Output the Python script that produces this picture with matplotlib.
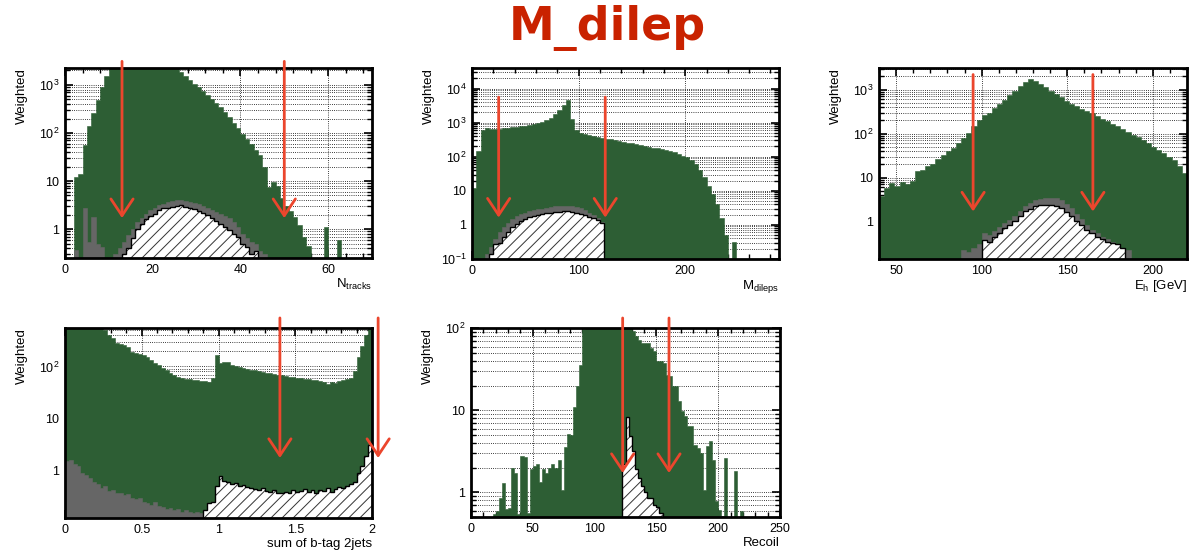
import numpy as np
import matplotlib
matplotlib.use("Agg")
import matplotlib.pyplot as plt
from matplotlib.ticker import LogLocator, FuncFormatter, NullFormatter, MultipleLocator, AutoMinorLocator

plt.rcParams["font.family"] = ["Liberation Sans", "DejaVu Sans"]
plt.rcParams["hatch.linewidth"] = 0.7

BKG = "#2d5e34"
OTHER = "#666666"
HATCH = "#333333"
ARROW = "#eb462d"
TITLE = "#c92200"

# N_tracks, 1-wide bins from 0
ntrk_bkg = [0, 0, 12, 14, 55, 140, 260, 480, 900, 1500,
            2400, 3000, 3400, 3700, 4000, 4300, 4500, 4600, 4600, 4500,
            4300, 4000, 3700, 3300, 2900, 2500, 1900, 1550, 1250, 1050,
            900, 750, 620, 500, 420, 340, 270, 210, 165, 125,
            95, 75, 58, 45, 34, 20, 7.5, 9.5, 8, 4.5,
            3, 2.4, 1.8, 1.2, 0.7, 0.45, 0, 0, 0, 1.1,
            0, 0, 0.58, 0, 0, 0, 0, 0, 0, 0]
ntrk_other = [0, 0, 0.36, 0, 2.7, 0.54, 1.8, 0.5, 0.43, 0,
              0, 0.3, 0.4, 0.54, 0.75, 1.0, 1.4, 1.7, 2.1, 2.5,
              2.8, 3.2, 3.4, 3.6, 3.8, 4.0, 4.0, 3.9, 3.7, 3.5,
              3.3, 3.0, 2.8, 2.5, 2.3, 2.1, 1.9, 1.7, 1.4, 1.1,
              0.8, 0.65, 0.55, 0.5, 0.35, 0.3]
ntrk_sig_start = 13
ntrk_sig = [0.3, 0.4, 0.65, 1.0, 1.3, 1.6, 1.9, 2.1, 2.5, 2.7,
            2.8, 2.9, 3.0, 3.2, 2.9, 2.8, 2.6, 2.4, 2.2, 2.0,
            1.7, 1.5, 1.3, 1.1, 0.97, 0.8, 0.7, 0.5, 0.42, 0.3, 0.35]
ntrk_cuts = [13, 50]

# M_dileps, 4-wide bins from 0
mdil_bkg = [12, 150, 600, 680, 670, 660, 670, 680, 700, 720,
            750, 780, 820, 860, 900, 960, 1050, 1200, 1400, 1750,
            2300, 3200, 4500, 1300, 620, 500, 470, 440, 410, 385,
            360, 340, 320, 305, 290, 275, 260, 245, 230, 215,
            205, 195, 185, 175, 165, 155, 145, 135, 120, 108,
            95, 78, 60, 40, 25, 14, 8, 4, 1.6, 0.5,
            0, 0.32, 0, 0, 0, 0, 0, 0, 0, 0, 0, 0]
mdil_other_start = 12
mdil_other = [0.14, 0.22, 0.38, 0.6, 0.85, 1.15, 1.45, 1.8, 2.1, 2.3,
              2.5, 2.7, 2.9, 3.0, 3.2, 3.4, 3.5, 3.6, 3.6, 3.6,
              3.5, 3.3, 3.1, 2.7, 2.3, 1.9, 1.6, 1.2]
mdil_sig_start = 16
mdil_sig = [0.14, 0.27, 0.3, 0.45, 0.6, 0.85, 1.05, 1.3, 1.5, 1.7,
            1.8, 1.95, 2.1, 2.2, 2.25, 2.35, 2.4, 2.5, 2.5, 2.45,
            2.3, 2.15, 1.9, 1.75, 1.55, 1.35, 1.1]
mdil_cuts = [25, 125]

# E_h [GeV], 3-wide bins from 40
eh_bkg = [3.7, 5.7, 7.5, 6.5, 8, 7, 8.5, 14, 15, 18,
          20, 26, 32, 40, 48, 60, 80, 105, 150, 200,
          260, 300, 380, 460, 580, 750, 950, 1200, 1500, 1750,
          1600, 1350, 1150, 950, 800, 680, 560, 470, 420, 370,
          330, 300, 250, 210, 190, 165, 145, 125, 110, 95,
          85, 72, 60, 50, 43, 36, 30, 25, 18, 13]
eh_other_start = 88
eh_other = [0.23, 0.2, 0.25, 0.3, 0.55, 0.5, 0.6, 0.75, 0.9, 1.1,
            1.3, 1.7, 2.2, 2.6, 3.0, 3.3, 3.5, 3.5, 3.4, 3.0,
            2.5, 2.0, 1.5, 1.15, 0.85, 0.65, 0.55, 0.45, 0.4, 0.35,
            0.3, 0.25, 0.22]
eh_sig_start = 100
eh_sig = [0.38, 0.35, 0.45, 0.55, 0.7, 0.85, 1.0, 1.3, 1.7, 1.95,
          2.2, 2.35, 2.4, 2.4, 2.3, 2.0, 1.6, 1.3, 1.05, 0.85,
          0.65, 0.55, 0.45, 0.4, 0.35, 0.32, 0.3, 0.25]
eh_cuts = [95, 165]

# sum of b-tag for the two jets, 0.025-wide bins from 0
btag_bkg = [900, 850, 800, 760, 720, 690, 660, 640, 600, 570,
            500, 400, 350, 280, 270, 255, 240, 190, 180, 175,
            165, 150, 135, 115, 105, 95, 85, 75, 68, 62,
            60, 58, 57, 55, 55, 53, 52, 50, 60, 168,
            116, 124, 120, 108, 100, 96, 93, 90, 86, 84,
            80, 78, 76, 74, 72, 70, 70, 66, 64, 62,
            60, 59, 58, 57, 55, 55, 53, 50, 46, 50,
            48, 52, 55, 57, 60, 80, 155, 250, 400, 1500]
btag_other = [1.5, 1.6, 1.3, 1.2, 0.89, 0.8, 0.7, 0.6, 0.55, 0.45,
              0.5, 0.4, 0.42, 0.37, 0.36, 0.33, 0.35, 0.3, 0.28, 0.3,
              0.25, 0.24, 0.22, 0.25, 0.21, 0.2, 0.18, 0.19, 0.17, 0.18,
              0.16, 0.17, 0.16, 0.15, 0.16, 0.15, 0.14]
btag_sig_start = 0.9
btag_sig = [0.175, 0.235, 0.25, 0.5, 0.77, 0.62, 0.6, 0.55, 0.57, 0.5,
            0.52, 0.48, 0.46, 0.44, 0.42, 0.45, 0.4, 0.38, 0.41, 0.37,
            0.36, 0.39, 0.37, 0.42, 0.38, 0.4, 0.43, 0.39, 0.41, 0.37,
            0.42, 0.4, 0.45, 0.38, 0.43, 0.47, 0.45, 0.49, 0.55, 0.61,
            0.89, 1.2, 1.86, 3.1]
btag_cuts = [1.4, 2.04]

# Recoil, 2.5-wide bins from 15
recoil_bkg = [0, 0.55, 0.6, 0.85, 1.3, 0.62, 0.65, 2.0, 1.7, 0.55,
              2.75, 2.7, 0.56, 1.9, 2.1, 2.2, 1.35, 1.9, 1.7, 2.0,
              2.2, 2.0, 2.5, 1.08, 3.6, 5.1, 5.0, 11, 20, 36,
              97, 140, 180, 220, 250, 270, 280, 290, 280, 270,
              250, 230, 200, 170, 140, 110, 93, 80, 73, 67,
              67, 66, 58, 53, 40, 40, 38, 27, 26, 20,
              20, 13, 9.8, 8.5, 6.4, 6.4, 3.8, 3.5, 3.0, 1.08,
              3.65, 4.2, 2.5, 0.78, 0.61, 0.51, 2.6, 0, 0, 1.8,
              0, 0.59, 0, 0]
recoil_sig_start = 122.5
recoil_sig = [2.2, 8.3, 4.8, 3.2, 1.9, 1.5, 1.2, 1.0, 0.85, 0.85,
              0.7, 0.67, 0.56]
recoil_cuts = [122.7, 160.2]

FLOOR = 1e-4


def draw_hist(ax, start, width, vals, **kw):
    v = np.asarray(vals, dtype=float)
    edges = start + width * np.arange(len(v) + 1)
    ax.stairs(np.where(v > 0, v, FLOOR), edges, baseline=FLOOR, **kw)


def root_log(v, pos):
    e = int(round(np.log10(v)))
    if e == 0:
        return "1"
    if e == 1:
        return "10"
    return r"$\mathregular{10^{%d}}$" % e


def plain(v, pos):
    return "%g" % v


W, H = 1189, 555
panels = [
    dict(box=(65, 68, 372, 258), xlim=(0, 70), ylim=(0.25, 2250), major=20,
         xlabel=r"$\mathregular{N_{tracks}}$",
         bkg=(0, 1, ntrk_bkg), other=(0, 1, ntrk_other), sig=(ntrk_sig_start, 1, ntrk_sig),
         cuts=ntrk_cuts, tip=1.69, top=1.035, topc="axes fraction"),
    dict(box=(472, 68, 779, 259), xlim=(0, 288), ylim=(0.1, 4e4), major=100,
         xlabel=r"$\mathregular{M_{dileps}}$",
         bkg=(0, 4, mdil_bkg), other=(mdil_other_start, 4, mdil_other), sig=(mdil_sig_start, 4, mdil_sig),
         cuts=mdil_cuts, tip=1.64, top=5600, topc="data"),
    dict(box=(879, 68, 1187, 259), xlim=(40, 220), ylim=(0.14, 3100), major=50,
         xlabel=r"$\mathregular{E_{h}}$ [GeV]",
         bkg=(40, 3, eh_bkg), other=(eh_other_start, 3, eh_other), sig=(eh_sig_start, 3, eh_sig),
         cuts=eh_cuts, tip=1.69, top=2200, topc="data"),
    dict(box=(65, 328, 372, 518), xlim=(0, 2), ylim=(0.121, 550), major=0.5,
         xlabel="sum of b-tag 2jets",
         bkg=(0, 0.025, btag_bkg), other=(0, 0.025, btag_other), sig=(btag_sig_start, 0.025, btag_sig),
         cuts=btag_cuts, tip=1.73, top=1.053, topc="axes fraction"),
    dict(box=(471, 328, 780, 517), xlim=(0, 250), ylim=(0.5, 101), major=50,
         xlabel="Recoil",
         bkg=(15, 2.5, recoil_bkg), other=None, sig=(recoil_sig_start, 2.5, recoil_sig),
         cuts=recoil_cuts, tip=1.72, top=1.053, topc="axes fraction"),
]

fig = plt.figure(figsize=(W / 100, H / 100), dpi=100)

for p in panels:
    x0, y0, x1, y1 = p["box"]
    ax = fig.add_axes([x0 / W, 1 - y1 / H, (x1 - x0) / W, (y1 - y0) / H])
    ax.set_yscale("log")
    ax.set_xlim(*p["xlim"])
    ax.set_ylim(*p["ylim"])

    ax.set_axisbelow(True)
    ax.grid(True, axis="x", which="major", color="black", linestyle=(0, (1, 1.6)), linewidth=0.6)
    ax.grid(True, axis="y", which="both", color="black", linestyle=(0, (1, 1.6)), linewidth=0.6)

    s, w, v = p["bkg"]
    draw_hist(ax, s, w, v, fill=True, facecolor=BKG, edgecolor=BKG, linewidth=0.4)
    if p["other"] is not None:
        s, w, v = p["other"]
        draw_hist(ax, s, w, v, fill=True, facecolor=OTHER, edgecolor=OTHER, linewidth=0.4)
    s, w, v = p["sig"]
    draw_hist(ax, s, w, v, fill=True, facecolor="white", edgecolor=HATCH, hatch="///", linewidth=0)
    draw_hist(ax, s, w, v, fill=False, color="black", linewidth=1.0)

    # cut positions
    for xc in p["cuts"]:
        ax.annotate("", xy=(xc, p["tip"]), xycoords="data",
                    xytext=(xc, p["top"]), textcoords=("data", p["topc"]),
                    arrowprops=dict(arrowstyle="->,head_length=0.6,head_width=0.4",
                                    color=ARROW, lw=2.0, shrinkA=0, shrinkB=0,
                                    mutation_scale=20),
                    annotation_clip=False, zorder=10)

    ax.xaxis.set_major_locator(MultipleLocator(p["major"]))
    ax.xaxis.set_minor_locator(AutoMinorLocator(5))
    ax.xaxis.set_major_formatter(FuncFormatter(plain))
    ax.yaxis.set_major_locator(LogLocator(base=10))
    ax.yaxis.set_minor_locator(LogLocator(base=10, subs=np.arange(2, 10)))
    ax.yaxis.set_major_formatter(FuncFormatter(root_log))
    ax.yaxis.set_minor_formatter(NullFormatter())
    ax.tick_params(which="both", direction="in", top=True, right=True, labelsize=9)
    ax.tick_params(which="major", length=6, width=1.2, pad=4)
    ax.tick_params(which="minor", length=3.5, width=1.0)
    for sp in ax.spines.values():
        sp.set_linewidth(2.0)
        sp.set_zorder(5)

    ax.set_xlabel(p["xlabel"], loc="right", fontsize=9.5)
    ax.xaxis.set_label_coords(1.0, -0.155)
    ax.xaxis.label.set_va("baseline")
    ax.set_ylabel("Weighted", loc="top", fontsize=9.5)
    ax.yaxis.set_label_coords(-0.12, 1.0)

fig.text(607 / W, 1 - 40 / H, "M_dilep", ha="center", va="baseline",
         fontsize=33, fontweight="bold", color=TITLE, family="DejaVu Sans")

fig.savefig("out.png", dpi=100)
